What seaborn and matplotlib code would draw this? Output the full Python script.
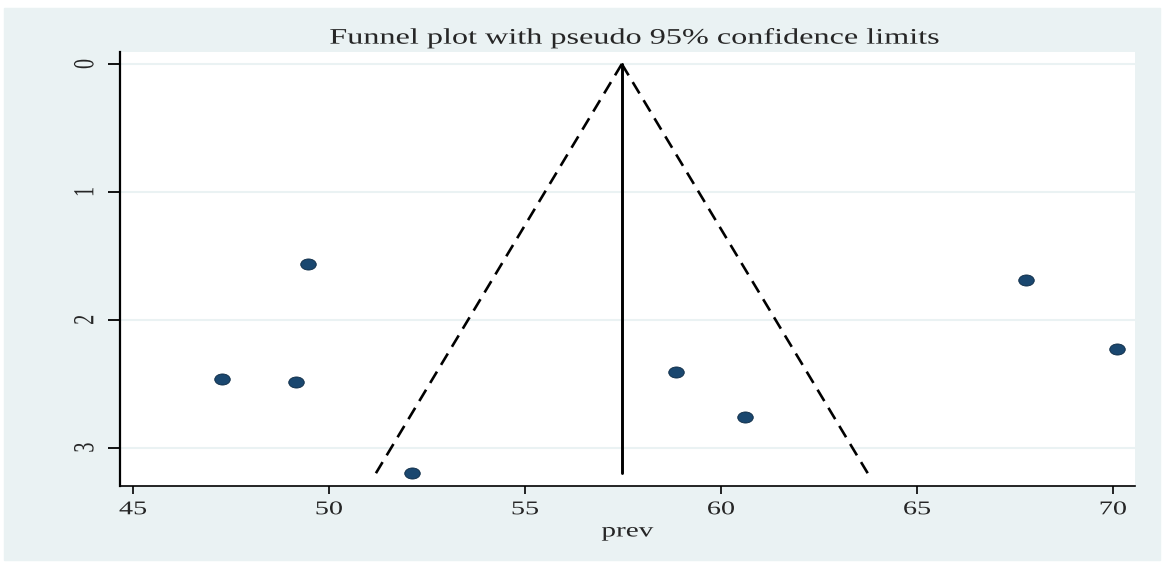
import matplotlib
matplotlib.use("Agg")
import matplotlib.pyplot as plt
import matplotlib.patheffects as pe
from matplotlib.path import Path
from matplotlib.transforms import Affine2D
import pandas as pd
import seaborn as sns

# Study estimates (prevalence) and their standard errors
prev = [47.27, 49.16, 49.46, 52.12, 58.85, 60.61, 67.78, 70.10]
se = [2.46, 2.49, 1.56, 3.20, 2.41, 2.76, 1.69, 2.23]

# Pooled estimate and range of the funnel
pooled = 57.47
se_range = [0.0, 3.2]
z = 1.96

df = pd.DataFrame({"prev": prev, "se": se})

# the reference image is stretched sideways, so stretch text the same way
SX = 1.45


class Stretch(pe.AbstractPathEffect):
    def __init__(self, sx=1.0, sy=1.0):
        super().__init__()
        self.sx, self.sy = sx, sy

    def draw_path(self, renderer, gc, tpath, affine, rgbFace=None):
        ext = tpath.get_extents()
        cx = (ext.x0 + ext.x1) / 2 if self.sx != 1 else 0
        t = Affine2D().translate(-cx, 0).scale(self.sx, self.sy).translate(cx, 0) + affine
        renderer.draw_path(gc, tpath, t, rgbFace)


sns.set_style("white")
plt.rcParams["font.family"] = ["Liberation Serif", "DejaVu Serif"]

bg = "#eaf2f3"
fig = plt.figure(figsize=(11.7, 5.66), dpi=100)
fig.patch.set_facecolor("white")
fig.patches.append(plt.Rectangle((4 / 1170, 6 / 566), 1156 / 1170, 552 / 566,
                                 transform=fig.transFigure, color=bg, zorder=-10))
ax = fig.add_axes([120 / 1170, 1 - 486 / 566, 1015 / 1170, 434 / 566])
ax.set_facecolor("white")

# funnel lines
lo = [pooled - z * s for s in se_range]
hi = [pooled + z * s for s in se_range]
ax.plot(lo, se_range, color="black", ls=(0, (5, 3)), lw=1.9)
ax.plot(hi, se_range, color="black", ls=(0, (5, 3)), lw=1.9)
ax.plot([pooled, pooled], se_range, color="black", lw=2.1)

circ = Path.unit_circle()
oval = Path(circ.vertices * [1.4, 1.0], circ.codes)
sns.scatterplot(data=df, x="prev", y="se", ax=ax, color="#1a476f", marker=oval,
                edgecolor="#0d2a44", linewidth=0.6, s=125, zorder=3)

ax.set_xlim(44.67, 70.56)
ax.set_ylim(3.30, -0.094)
ax.set_xticks([45, 50, 55, 60, 65, 70])
ax.set_yticks([0, 1, 2, 3])
ax.yaxis.grid(True, color=bg, lw=1.5)
ax.set_axisbelow(True)

for side in ["top", "right"]:
    ax.spines[side].set_visible(False)
ax.spines["left"].set_color("black")
ax.spines["left"].set_linewidth(1.6)
ax.spines["bottom"].set_color("black")
ax.spines["bottom"].set_linewidth(1.2)

ax.tick_params(axis="x", direction="out", length=6, width=1.2, color="black",
               labelsize=14, pad=5, bottom=True)
ax.tick_params(axis="y", direction="out", length=8.6, width=1.3, color="black",
               labelsize=14.5, pad=7, left=True)
for lab in ax.get_xticklabels():
    lab.set_path_effects([Stretch(sx=SX)])
for lab in ax.get_yticklabels():
    lab.set_rotation(90)
    lab.set_va("center")
    lab.set_path_effects([Stretch(sy=SX)])

ax.set_xlabel("prev", fontsize=14.5, labelpad=3,
              path_effects=[Stretch(sx=SX)])
ax.set_ylabel("")
ax.set_title("Funnel plot with pseudo 95% confidence limits", fontsize=16,
             x=0.507, pad=6, path_effects=[Stretch(sx=SX)])

fig.savefig("out.png", dpi=100, facecolor=fig.get_facecolor())
